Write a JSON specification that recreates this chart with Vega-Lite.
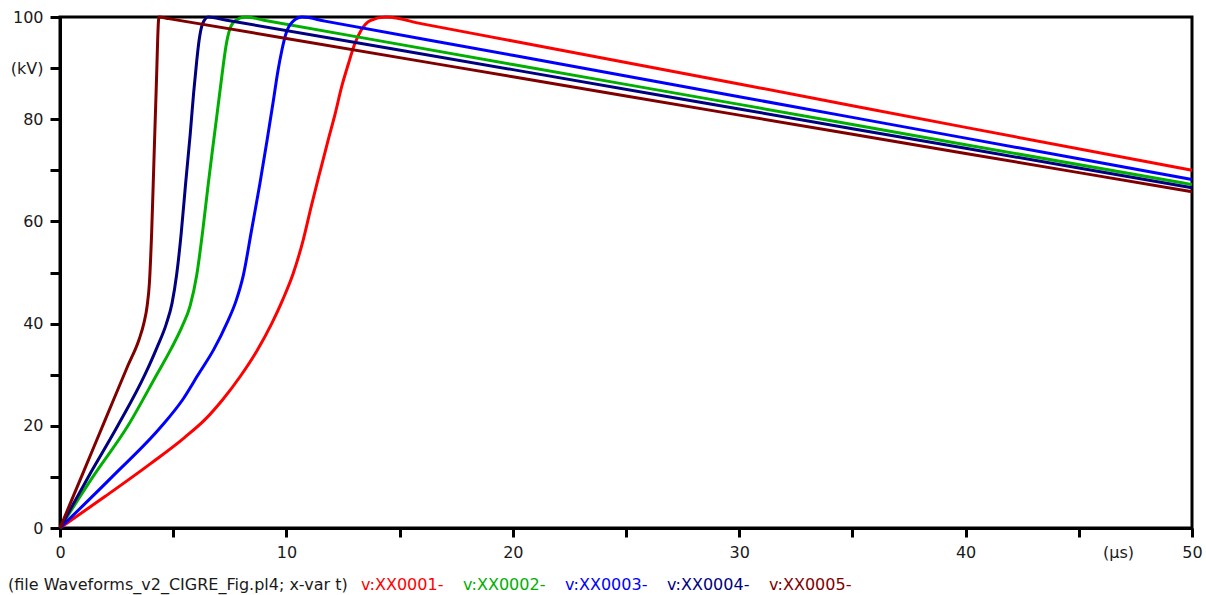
{
  "$schema": "https://vega.github.io/schema/vega-lite/v6.json",
  "width": 1132,
  "height": 511,
  "autosize": "none",
  "padding": {"left": 60, "top": 17, "right": 14, "bottom": 67},
  "background": "white",
  "config": {"font": "DejaVu Sans", "view": {"stroke": "black", "strokeWidth": 3}},
  "data": {"values": [
    {"s": "v:XX0001-", "t": 0, "v": 0},
    {"s": "v:XX0001-", "t": 2, "v": 6.2},
    {"s": "v:XX0001-", "t": 4, "v": 12.6},
    {"s": "v:XX0001-", "t": 5.5, "v": 17.7},
    {"s": "v:XX0001-", "t": 6.4, "v": 21.2},
    {"s": "v:XX0001-", "t": 7.2, "v": 25.2},
    {"s": "v:XX0001-", "t": 7.95, "v": 29.6},
    {"s": "v:XX0001-", "t": 8.7, "v": 34.7},
    {"s": "v:XX0001-", "t": 9.35, "v": 40},
    {"s": "v:XX0001-", "t": 9.85, "v": 44.8},
    {"s": "v:XX0001-", "t": 10.3, "v": 49.8},
    {"s": "v:XX0001-", "t": 10.75, "v": 56.5},
    {"s": "v:XX0001-", "t": 11.1, "v": 63},
    {"s": "v:XX0001-", "t": 11.5, "v": 70},
    {"s": "v:XX0001-", "t": 11.85, "v": 76},
    {"s": "v:XX0001-", "t": 12.15, "v": 81},
    {"s": "v:XX0001-", "t": 12.45, "v": 86.5},
    {"s": "v:XX0001-", "t": 12.75, "v": 91},
    {"s": "v:XX0001-", "t": 13.0, "v": 94.5},
    {"s": "v:XX0001-", "t": 13.3, "v": 97.4},
    {"s": "v:XX0001-", "t": 13.7, "v": 99.3},
    {"s": "v:XX0001-", "t": 14.4, "v": 100},
    {"s": "v:XX0001-", "t": 16, "v": 98.65},
    {"s": "v:XX0001-", "t": 20, "v": 95.3},
    {"s": "v:XX0001-", "t": 30, "v": 86.9},
    {"s": "v:XX0001-", "t": 40, "v": 78.4},
    {"s": "v:XX0001-", "t": 50, "v": 70},

    {"s": "v:XX0002-", "t": 0, "v": 0},
    {"s": "v:XX0002-", "t": 1.45, "v": 10},
    {"s": "v:XX0002-", "t": 3.0, "v": 20},
    {"s": "v:XX0002-", "t": 4.27, "v": 30},
    {"s": "v:XX0002-", "t": 4.9, "v": 35},
    {"s": "v:XX0002-", "t": 5.4, "v": 39.5},
    {"s": "v:XX0002-", "t": 5.75, "v": 43.5},
    {"s": "v:XX0002-", "t": 6.04, "v": 49.5},
    {"s": "v:XX0002-", "t": 6.3, "v": 58},
    {"s": "v:XX0002-", "t": 6.55, "v": 67.4},
    {"s": "v:XX0002-", "t": 6.75, "v": 74.5},
    {"s": "v:XX0002-", "t": 6.92, "v": 80.4},
    {"s": "v:XX0002-", "t": 7.08, "v": 86},
    {"s": "v:XX0002-", "t": 7.2, "v": 90.2},
    {"s": "v:XX0002-", "t": 7.33, "v": 94.3},
    {"s": "v:XX0002-", "t": 7.5, "v": 97.6},
    {"s": "v:XX0002-", "t": 7.75, "v": 99.3},
    {"s": "v:XX0002-", "t": 8.2, "v": 100},
    {"s": "v:XX0002-", "t": 9, "v": 99.37},
    {"s": "v:XX0002-", "t": 20, "v": 90.7},
    {"s": "v:XX0002-", "t": 30, "v": 82.9},
    {"s": "v:XX0002-", "t": 40, "v": 75.0},
    {"s": "v:XX0002-", "t": 50, "v": 67.2},

    {"s": "v:XX0003-", "t": 0, "v": 0},
    {"s": "v:XX0003-", "t": 2.3, "v": 10},
    {"s": "v:XX0003-", "t": 4.5, "v": 20},
    {"s": "v:XX0003-", "t": 5.4, "v": 25},
    {"s": "v:XX0003-", "t": 6.1, "v": 30},
    {"s": "v:XX0003-", "t": 6.8, "v": 35},
    {"s": "v:XX0003-", "t": 7.36, "v": 40},
    {"s": "v:XX0003-", "t": 7.78, "v": 44.5},
    {"s": "v:XX0003-", "t": 8.1, "v": 49.5},
    {"s": "v:XX0003-", "t": 8.45, "v": 58},
    {"s": "v:XX0003-", "t": 8.83, "v": 67.4},
    {"s": "v:XX0003-", "t": 9.15, "v": 76},
    {"s": "v:XX0003-", "t": 9.42, "v": 83.5},
    {"s": "v:XX0003-", "t": 9.62, "v": 89.3},
    {"s": "v:XX0003-", "t": 9.8, "v": 93.5},
    {"s": "v:XX0003-", "t": 10.0, "v": 97.0},
    {"s": "v:XX0003-", "t": 10.3, "v": 99.2},
    {"s": "v:XX0003-", "t": 10.7, "v": 100},
    {"s": "v:XX0003-", "t": 11.7, "v": 99.19},
    {"s": "v:XX0003-", "t": 20, "v": 92.5},
    {"s": "v:XX0003-", "t": 30, "v": 84.4},
    {"s": "v:XX0003-", "t": 40, "v": 76.3},
    {"s": "v:XX0003-", "t": 50, "v": 68.2},

    {"s": "v:XX0004-", "t": 0, "v": 0},
    {"s": "v:XX0004-", "t": 1.25, "v": 10},
    {"s": "v:XX0004-", "t": 2.55, "v": 20},
    {"s": "v:XX0004-", "t": 3.75, "v": 30},
    {"s": "v:XX0004-", "t": 4.3, "v": 35.5},
    {"s": "v:XX0004-", "t": 4.7, "v": 40},
    {"s": "v:XX0004-", "t": 4.95, "v": 44},
    {"s": "v:XX0004-", "t": 5.15, "v": 49.5},
    {"s": "v:XX0004-", "t": 5.35, "v": 57.5},
    {"s": "v:XX0004-", "t": 5.55, "v": 67.5},
    {"s": "v:XX0004-", "t": 5.75, "v": 77},
    {"s": "v:XX0004-", "t": 5.9, "v": 85},
    {"s": "v:XX0004-", "t": 6.03, "v": 91},
    {"s": "v:XX0004-", "t": 6.14, "v": 95.3},
    {"s": "v:XX0004-", "t": 6.3, "v": 98.7},
    {"s": "v:XX0004-", "t": 6.55, "v": 100},
    {"s": "v:XX0004-", "t": 7.3, "v": 99.42},
    {"s": "v:XX0004-", "t": 20, "v": 89.7},
    {"s": "v:XX0004-", "t": 30, "v": 82.0},
    {"s": "v:XX0004-", "t": 40, "v": 74.3},
    {"s": "v:XX0004-", "t": 50, "v": 66.6},

    {"s": "v:XX0005-", "t": 0, "v": 0},
    {"s": "v:XX0005-", "t": 1, "v": 10.6},
    {"s": "v:XX0005-", "t": 2, "v": 21.2},
    {"s": "v:XX0005-", "t": 3, "v": 31.8},
    {"s": "v:XX0005-", "t": 3.5, "v": 37},
    {"s": "v:XX0005-", "t": 3.7, "v": 40},
    {"s": "v:XX0005-", "t": 3.85, "v": 43.5},
    {"s": "v:XX0005-", "t": 3.95, "v": 48},
    {"s": "v:XX0005-", "t": 4.05, "v": 58},
    {"s": "v:XX0005-", "t": 4.15, "v": 72},
    {"s": "v:XX0005-", "t": 4.25, "v": 86},
    {"s": "v:XX0005-", "t": 4.37, "v": 100},
    {"s": "v:XX0005-", "t": 4.8, "v": 99.68},
    {"s": "v:XX0005-", "t": 10, "v": 95.8},
    {"s": "v:XX0005-", "t": 20, "v": 88.3},
    {"s": "v:XX0005-", "t": 30, "v": 80.8},
    {"s": "v:XX0005-", "t": 40, "v": 73.3},
    {"s": "v:XX0005-", "t": 50, "v": 65.8}
  ]},
  "mark": {"type": "line", "strokeWidth": 3, "interpolate": "monotone"},
  "encoding": {
    "x": {
      "field": "t", "type": "quantitative",
      "scale": {"domain": [0, 50], "nice": false, "zero": false},
      "axis": {
        "values": [0, 5, 10, 15, 20, 25, 30, 35, 40, 45, 50],
        "labelExpr": "datum.value % 10 == 0 ? datum.label : ''",
        "grid": false, "labelOverlap": false, "labelFlush": false,
        "domainColor": "black", "domainWidth": 3,
        "tickColor": "black", "tickWidth": 3, "tickSize": 9,
        "labelFontSize": 16, "labelColor": "#1a1a1a", "labelPadding": 7,
        "title": "(µs)", "titleX": 1058, "titleY": 16, "titleBaseline": "top",
        "titleFontWeight": "normal", "titleFontSize": 16, "titleColor": "#1a1a1a"
      }
    },
    "y": {
      "field": "v", "type": "quantitative",
      "scale": {"domain": [0, 100], "nice": false},
      "axis": {
        "values": [0, 10, 20, 30, 40, 50, 60, 70, 80, 90, 100],
        "labelExpr": "datum.value == 90 ? '(kV)' : (datum.value % 20 == 0 ? datum.label : '')",
        "grid": false, "labelOverlap": false, "labelFlush": false,
        "domainColor": "black", "domainWidth": 3,
        "tickColor": "black", "tickWidth": 3, "tickSize": 10,
        "labelFontSize": 16, "labelColor": "#1a1a1a", "labelPadding": 7,
        "title": null
      }
    },
    "color": {
      "field": "s", "type": "nominal",
      "scale": {
        "domain": ["v:XX0001-", "v:XX0002-", "v:XX0003-", "v:XX0004-", "v:XX0005-"],
        "range": ["#ff0000", "#00b000", "#0000ff", "#000080", "#800000"]
      },
      "legend": {
        "orient": "none", "legendX": -52, "legendY": 560,
        "direction": "horizontal",
        "title": "(file Waveforms_v2_CIGRE_Fig.pl4; x-var t)",
        "titleOrient": "left", "titleFontSize": 16, "titleFontWeight": "normal",
        "titleColor": "#1a1a1a", "titlePadding": -3, "titleLimit": 600,
        "labelFontSize": 16, "labelOffset": 0, "labelLimit": 200,
        "symbolSize": 0, "symbolOpacity": 0, "symbolStrokeWidth": 0,
        "columnPadding": 3,
        "encode": {"labels": {"update": {"fill": {"scale": "color", "field": "value"}}}}
      }
    }
  }
}
